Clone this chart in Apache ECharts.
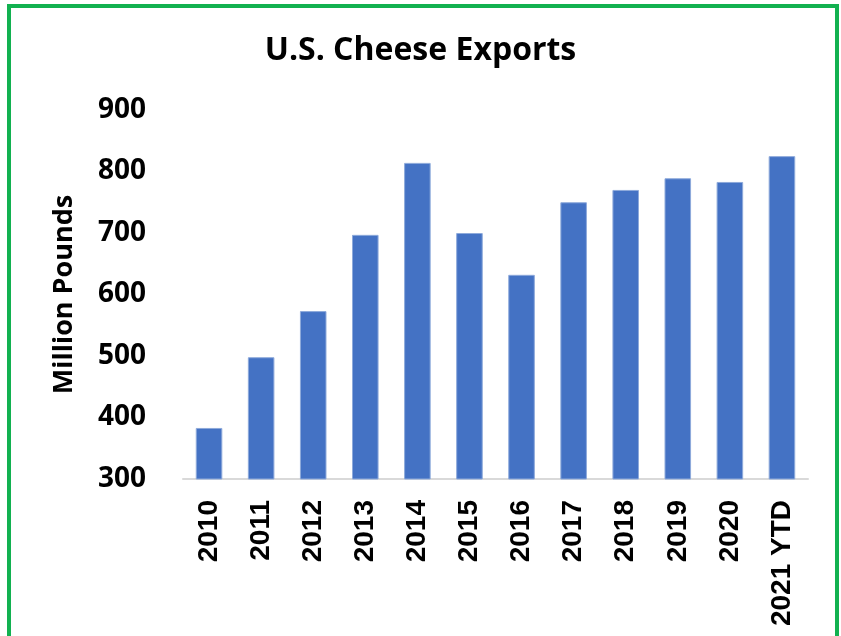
<!DOCTYPE html>
<html>
<head>
<meta charset="utf-8">
<script src="https://cdn.jsdelivr.net/npm/echarts@6/dist/echarts.min.js"></script>
<style>
  html, body { margin: 0; padding: 0; background: #fff; }
  #main { width: 841px; height: 636px; }
</style>
</head>
<body>
<div id="main"></div>
<script>
var years = ['2010', '2011', '2012', '2013', '2014', '2015', '2016', '2017', '2018', '2019', '2020', '2021 YTD'];
var exports = [383, 498, 573, 697, 814, 700, 632, 750, 770, 789, 783, 825];
var yTicks = [300, 400, 500, 600, 700, 800, 900];

var myChart = echarts.init(document.getElementById('main'));

var option = {
    animation: false,
    title: {
        text: 'U.S. Cheese Exports',
        left: 'center',
        top: 30,
        textStyle: {
            fontFamily: 'Open Sans',
            fontWeight: 'bold',
            fontSize: 32,
            color: '#000'
        }
    },
    grid: {
        left: 183,
        right: 33,
        top: 110,
        bottom: 157
    },
    // green frame round the picture
    graphic: [{
        type: 'rect',
        shape: { x: 9, y: 6, width: 828, height: 700 },
        style: { fill: 'none', stroke: '#12b150', lineWidth: 4 },
        silent: true
    }],
    xAxis: {
        type: 'category',
        data: years,
        axisLine: { lineStyle: { color: '#d9d9d9', width: 2 } },
        axisTick: { show: false },
        axisLabel: {
            rotate: 90,
            margin: 21,
            interval: 0,
            fontFamily: 'Liberation Sans',
            fontWeight: 'bold',
            fontSize: 28,
            color: '#000'
        }
    },
    yAxis: {
        type: 'value',
        min: yTicks[0],
        max: yTicks[yTicks.length - 1],
        interval: 100,
        name: 'Million Pounds',
        nameLocation: 'middle',
        nameGap: 105,
        nameTextStyle: {
            fontFamily: 'Open Sans',
            fontWeight: 'bold',
            fontSize: 27,
            color: '#000'
        },
        axisLine: { show: false },
        axisTick: { show: false },
        splitLine: { show: false },
        axisLabel: {
            margin: 37,
            fontFamily: 'Open Sans',
            fontWeight: 'bold',
            fontSize: 28,
            color: '#000'
        }
    },
    series: [{
        type: 'bar',
        data: exports,
        barWidth: '51%',
        itemStyle: {
            color: '#4472c4',
            borderColor: '#8eaadb',
            borderWidth: 1
        }
    }]
};

myChart.setOption(option);
</script>
</body>
</html>
